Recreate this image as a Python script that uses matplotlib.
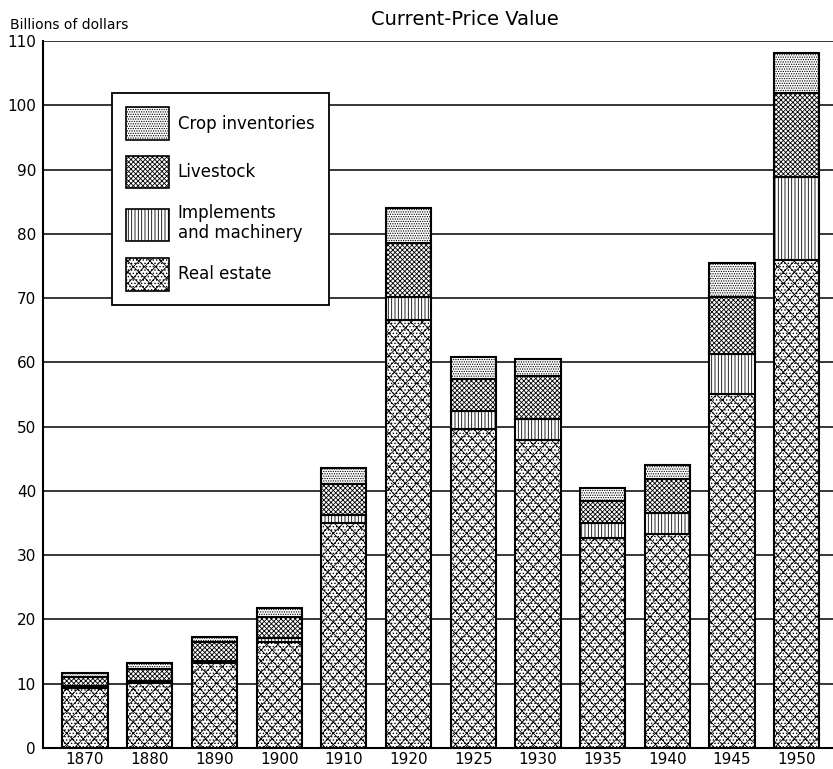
from __future__ import annotations

import matplotlib
import numpy as np

matplotlib.use("Agg")
import matplotlib.pyplot as plt
from matplotlib.patches import Patch


YEARS = ["1870", "1880", "1890", "1900", "1910", "1920", "1925", "1930", "1935", "1940", "1945", "1950"]

# billions of dollars (segment sizes)
REAL_ESTATE = [9.3, 10.1, 13.2, 16.5, 35.0, 66.6, 49.6, 47.9, 32.7, 33.3, 55.1, 75.9]
IMPLEMENTS = [0.3, 0.3, 0.3, 0.6, 1.2, 3.5, 2.8, 3.3, 2.3, 3.2, 6.2, 12.9]
LIVESTOCK = [1.4, 1.9, 3.0, 3.3, 4.8, 8.4, 5.0, 6.7, 3.4, 5.3, 8.9, 13.1]
CROPS = [0.7, 0.9, 0.8, 1.4, 2.5, 5.5, 3.4, 2.6, 2.0, 2.2, 5.2, 6.2]

SERIES = [
    ("Real estate", REAL_ESTATE, "xxx....."),
    ("Implements\nand machinery", IMPLEMENTS, "|||||"),
    ("Livestock", LIVESTOCK, "xxxxxxx"),
    ("Crop inventories", CROPS, "......."),
]

Y_TICKS = list(range(0, 111, 10))

FONT = ["DejaVu Sans"]


def main() -> None:
    plt.rcParams["font.family"] = FONT
    plt.rcParams["hatch.linewidth"] = 0.6
    plt.rcParams["hatch.color"] = "black"

    figure = plt.figure(figsize=(8.33, 7.69), dpi=100)
    axis = figure.add_axes([0.0516, 0.0273, 0.9484, 0.9194])

    x = np.arange(len(YEARS))
    bottom = np.zeros(len(YEARS))
    for label, values, hatch in SERIES:
        axis.bar(
            x, values, width=0.70, bottom=bottom, color="white", edgecolor="black",
            linewidth=1.5, hatch=hatch, zorder=3, label=label,
        )
        bottom = bottom + np.array(values)

    axis.set_xlim(-0.65, 11.56)
    axis.set_ylim(0, 110)
    axis.set_yticks(Y_TICKS)
    axis.set_xticks(x)
    axis.set_xticklabels(YEARS)
    axis.tick_params(axis="both", length=0, labelsize=11, colors="black")
    axis.tick_params(axis="y", pad=5)
    axis.tick_params(axis="x", pad=3)
    axis.grid(axis="y", color="black", linewidth=1.1, zorder=0)
    axis.set_axisbelow(True)
    for side in ("top", "right"):
        axis.spines[side].set_visible(False)
    axis.spines["left"].set_linewidth(1.5)
    axis.spines["bottom"].set_linewidth(1.5)

    handles = [
        Patch(facecolor="white", edgecolor="black", hatch=hatch, linewidth=1.2, label=label)
        for label, _, hatch in reversed(SERIES)
    ]
    legend = axis.legend(
        handles=handles, loc="upper left", bbox_to_anchor=(0.0873, 0.926),
        borderaxespad=0, fancybox=False, framealpha=1, edgecolor="black",
        fontsize=12, handlelength=2.6, handleheight=2.6, labelspacing=0.95,
        handletextpad=0.5, borderpad=0.85,
    )
    legend.get_frame().set_linewidth(1.3)
    legend.set_zorder(5)

    figure.text(0.558, 0.975, "Current-Price Value", ha="center", va="center", fontsize=14)
    figure.text(0.012, 0.968, "Billions of dollars", ha="left", va="center", fontsize=10)

    figure.savefig("out.png", dpi=100)
    plt.close(figure)


if __name__ == "__main__":
    main()
